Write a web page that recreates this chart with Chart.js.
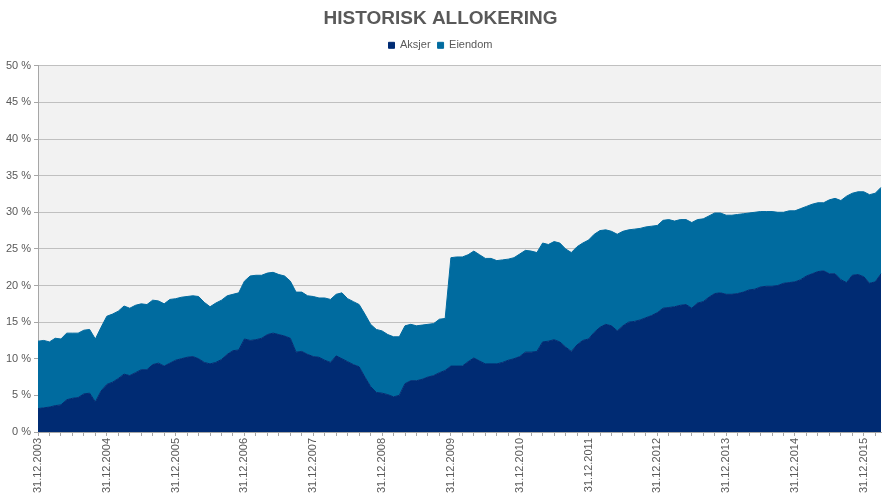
<!DOCTYPE html>
<html>
<head>
<meta charset="utf-8">
<title>Historisk allokering</title>
<script src="https://cdn.jsdelivr.net/npm/chart.js@4/dist/chart.umd.min.js"></script>
<style>
  html, body { margin: 0; padding: 0; background: #fff; }
  #wrap { width: 892px; height: 495px; }
</style>
</head>
<body>
<div id="wrap"><canvas id="chart"></canvas></div>
<script>
// monthly share of the portfolio, in percent, 31.12.2003 .. 31.03.2016
const aksjer = [
  3.2, 3.3, 3.4, 3.6, 3.7, 4.4, 4.6, 4.7, 5.2, 5.3, 4.1, 5.6,
  6.5, 6.8, 7.3, 7.9, 7.7, 8.1, 8.5, 8.5, 9.2, 9.4, 9.0, 9.4,
  9.8, 10.0, 10.2, 10.3, 10.0, 9.5, 9.3, 9.5, 9.9, 10.6, 11.1, 11.2,
  12.7, 12.5, 12.6, 12.8, 13.3, 13.5, 13.3, 13.1, 12.8, 10.9, 11.0, 10.6,
  10.3, 10.2, 9.8, 9.5, 10.4, 10.0, 9.6, 9.2, 8.9, 7.5, 6.2, 5.4,
  5.3, 5.1, 4.8, 5.0, 6.6, 7.0, 7.0, 7.2, 7.5, 7.7, 8.1, 8.4,
  9.0, 9.0, 9.0, 9.6, 10.1, 9.7, 9.3, 9.3, 9.3, 9.5, 9.8, 10.0,
  10.3, 10.9, 10.9, 11.0, 12.3, 12.4, 12.6, 12.3, 11.6, 11.0, 11.9, 12.5,
  12.7, 13.6, 14.3, 14.7, 14.5, 13.8, 14.5, 15.0, 15.1, 15.3, 15.6, 15.9,
  16.3, 16.9, 17.0, 17.1, 17.3, 17.4, 16.9, 17.6, 17.8, 18.4, 18.9, 19.0,
  18.8, 18.8, 18.9, 19.1, 19.4, 19.5, 19.8, 19.9, 19.9, 20.0, 20.3, 20.4,
  20.5, 20.8, 21.3, 21.6, 21.9, 22.0, 21.6, 21.6, 20.8, 20.4, 21.4, 21.5,
  21.2, 20.3, 20.5, 21.6
];
const eiendom = [
  9.2, 9.2, 8.9, 9.2, 9.0, 9.1, 8.9, 8.8, 8.7, 8.7, 8.6, 8.7,
  9.3, 9.3, 9.2, 9.3, 9.2, 9.2, 9.0, 8.9, 8.8, 8.5, 8.5, 8.7,
  8.4, 8.4, 8.3, 8.3, 8.5, 8.2, 7.8, 8.1, 8.1, 8.0, 7.7, 7.8,
  7.9, 8.8, 8.8, 8.6, 8.4, 8.3, 8.2, 8.2, 7.8, 8.2, 8.1, 8.0,
  8.2, 8.1, 8.5, 8.6, 8.4, 9.0, 8.6, 8.6, 8.5, 8.6, 8.5, 8.6,
  8.5, 8.2, 8.2, 8.0, 7.9, 7.7, 7.5, 7.4, 7.2, 7.1, 7.3, 7.1,
  14.8, 14.9, 14.9, 14.6, 14.6, 14.5, 14.4, 14.4, 14.1, 14.0, 13.8, 13.8,
  14.0, 13.9, 13.8, 13.5, 13.5, 13.2, 13.4, 13.5, 13.4, 13.5, 13.4, 13.3,
  13.5, 13.4, 13.2, 12.9, 12.9, 13.2, 12.9, 12.6, 12.6, 12.5, 12.4, 12.2,
  11.9, 12.0, 12.0, 11.7, 11.7, 11.6, 11.7, 11.4, 11.3, 11.1, 11.0, 10.9,
  10.8, 10.8, 10.8, 10.7, 10.5, 10.5, 10.3, 10.2, 10.2, 10.0, 9.7, 9.8,
  9.7, 9.7, 9.5, 9.5, 9.4, 9.3, 10.1, 10.3, 10.8, 11.8, 11.2, 11.3,
  11.6, 12.1, 12.1, 11.8
];
const yTicks = [0, 5, 10, 15, 20, 25, 30, 35, 40, 45, 50];

// month-end dates as category labels, dd.mm.yyyy
const categories = [];
for (let m = 0; m < aksjer.length; m++) {
  const d = new Date(2004, m, 0);
  const dd = String(d.getDate()).padStart(2, '0');
  const mm = String(d.getMonth() + 1).padStart(2, '0');
  categories.push(dd + '.' + mm + '.' + d.getFullYear());
}

const grey = '#595959';

const plotBackground = {
  id: 'plotBackground',
  beforeDraw(chart) {
    const { ctx, chartArea } = chart;
    ctx.save();
    ctx.fillStyle = '#f2f2f2';
    ctx.fillRect(chartArea.left, chartArea.top, chartArea.right - chartArea.left, chartArea.bottom - chartArea.top);
    ctx.restore();
  }
};

// a bit more room between the legend and the plot
const legendGap = {
  id: 'legendGap',
  afterInit(chart) {
    const lg = chart.legend;
    if (!lg) return;
    const fit = lg.fit.bind(lg);
    lg.fit = function () { fit(); this.height += 5; };
  }
};

Chart.defaults.font.family = '"Liberation Sans", Arial, sans-serif';
Chart.defaults.color = grey;

new Chart(document.getElementById('chart'), {
  type: 'line',
  data: {
    labels: categories,
    datasets: [{
      label: 'Aksjer',
      data: aksjer,
      backgroundColor: '#002b73',
      borderColor: '#002b73',
      borderWidth: 1,
      fill: 'origin',
      pointRadius: 0,
      tension: 0
    }, {
      label: 'Eiendom',
      data: eiendom,
      backgroundColor: '#006b9f',
      borderColor: '#006b9f',
      borderWidth: 1,
      fill: '-1',
      pointRadius: 0,
      tension: 0
    }]
  },
  options: {
    responsive: true,
    maintainAspectRatio: false,
    animation: false,
    layout: { padding: { right: 11 } },
    plugins: {
      title: {
        display: true,
        text: 'HISTORISK ALLOKERING',
        color: grey,
        font: { size: 19, weight: 'bold' },
        padding: { top: 7, bottom: 3 }
      },
      legend: {
        labels: {
          boxWidth: 6,
          boxHeight: 6,
          padding: 7,
          color: grey,
          font: { size: 11 }
        }
      },
      tooltip: { enabled: false }
    },
    scales: {
      x: {
        offset: false,
        afterFit(scale) {
          scale.height = 63;
          scale.paddingLeft = 0;
          scale.paddingRight = 0;
        },
        grid: {
          drawOnChartArea: false,
          tickLength: 4,
          tickColor: c => (c.index % 2 === 0 ? '#a6a6a6' : 'rgba(0,0,0,0)')
        },
        border: { color: '#a6a6a6' },
        ticks: {
          autoSkip: false,
          maxRotation: 90,
          minRotation: 90,
          padding: 2,
          font: { size: 11 },
          color: grey,
          callback(value, index) {
            return index % 12 === 0 ? this.getLabelForValue(value) : '';
          }
        }
      },
      y: {
        stacked: true,
        min: 0,
        max: 50,
        afterFit(scale) { scale.width = 38; },
        afterBuildTicks(scale) { scale.ticks = yTicks.map(v => ({ value: v })); },
        grid: { color: '#c0c0c0', tickColor: '#a6a6a6', tickLength: 4 },
        border: { color: '#a6a6a6' },
        ticks: {
          padding: 3,
          font: { size: 11 },
          color: grey,
          callback: v => v + ' %'
        }
      }
    }
  },
  plugins: [plotBackground, legendGap]
});
</script>
</body>
</html>
